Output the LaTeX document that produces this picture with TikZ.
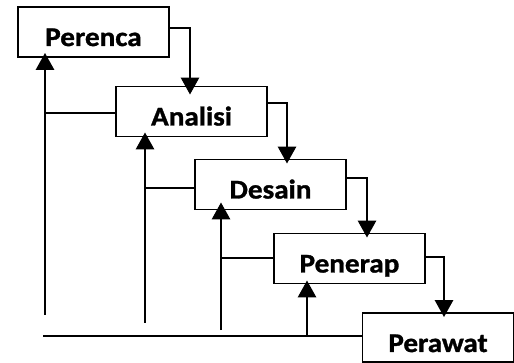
\documentclass[tikz,border=0pt]{standalone}
\usepackage{fontspec}
\setmainfont{Carlito}[FakeStretch=1.08,FakeBold=1.2]
\usetikzlibrary{arrows.meta}
\begin{document}
\begin{tikzpicture}[x=1pt,y=-1pt,
  stagebox/.style={draw,line width=1.8pt,minimum width=151pt,inner sep=0pt,
    text height=39pt,text depth=11pt,font=\fontsize{27}{27}\selectfont\bfseries},
  flow/.style={line width=2.8pt,-{Triangle[width=18pt,length=17pt]}},
  tie/.style={line width=1.8pt}]
\useasboundingbox (0,0) rectangle (514,363);
\node[stagebox] (per) at (93.5,32) {Perenca};
\node[stagebox] (ana) at (191.5,111.5) {Analisi};
\node[stagebox] (des) at (270.5,184.5) {Desain};
\node[stagebox] (pen) at (349.5,258.5) {Penerap};
\node[stagebox,text depth=10pt] (paw) at (438,337.5) {Perawat};
% downward flow
\draw[flow] (per.east |- 0,28) -| ([yshift=-9pt]ana.north -| 190,0);
\draw[flow] (ana.east |- 0,103) -| ([yshift=-5pt]des.north -| 287,0);
\draw[flow] (des.east |- 0,178) -| ([yshift=-5pt]pen.north -| 367,0);
\draw[flow] (pen.east |- 0,257) -| ([yshift=-5pt]paw.north -| 444,0);
% feedback
\coordinate (f1) at (45,315);
\coordinate (f2) at (145,323);
\coordinate (f3) at (221,330);
\coordinate (f4) at (307,336);
\coordinate (b0) at (43,336);
\draw[flow] (f1) -- ([yshift=5pt]per.south -| f1);
\draw[flow] (f2) -- ([yshift=5pt]ana.south -| f2);
\draw[flow] (f3) -- ([yshift=8pt]des.south -| f3);
\draw[flow] (f4) -- ([yshift=4pt]pen.south -| f4);
\draw[tie] (f1 |- 0,113) -- (ana.west |- 0,113);
\draw[tie] (f2 |- 0,188) -- (des.west |- 0,188);
\draw[tie] (f3 |- 0,258) -- (pen.west |- 0,258);
\draw[tie] (b0) -- (paw.west |- b0);
\end{tikzpicture}
\end{document}
